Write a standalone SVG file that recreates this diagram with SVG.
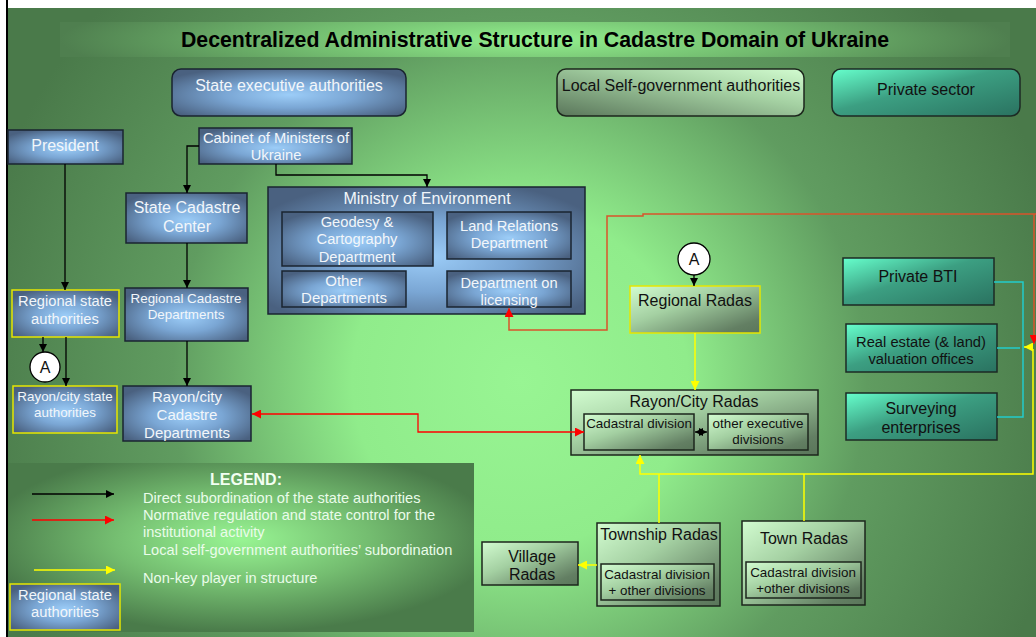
<svg xmlns="http://www.w3.org/2000/svg" width="1036" height="637" viewBox="0 0 1036 637">
<defs>
<radialGradient id="bg" gradientUnits="userSpaceOnUse" cx="520" cy="380" r="560">
<stop offset="0" stop-color="#98f593"/>
<stop offset="0.3" stop-color="#90ec8b"/>
<stop offset="0.62" stop-color="#609c60"/>
<stop offset="1" stop-color="#4a7a4a"/>
</radialGradient>
<radialGradient id="band" cx="0.5" cy="0.5" r="0.5" gradientTransform="translate(0.5 0.5) scale(1 3) translate(-0.5 -0.5)">
<stop offset="0" stop-color="#93f08e"/>
<stop offset="0.5" stop-color="#73bd70"/>
<stop offset="1" stop-color="#4f7f4f"/>
</radialGradient>
<radialGradient id="legbg" cx="0.5" cy="0.45" r="0.55">
<stop offset="0" stop-color="#98f593"/>
<stop offset="0.5" stop-color="#74bd70"/>
<stop offset="1" stop-color="#4a7b4a"/>
</radialGradient>
<radialGradient id="blue" cx="0.5" cy="0.55" r="0.62">
<stop offset="0" stop-color="#9ccdf8"/>
<stop offset="0.45" stop-color="#7aa6d4"/>
<stop offset="1" stop-color="#4a6180"/>
</radialGradient>
<linearGradient id="lgreen" x1="0" y1="0" x2="1" y2="1">
<stop offset="0" stop-color="#d2fcd0"/>
<stop offset="0.4" stop-color="#a4d0a2"/>
<stop offset="0.85" stop-color="#637f63"/>
<stop offset="1" stop-color="#5a765a"/>
</linearGradient>
<linearGradient id="lgreen2" x1="1" y1="0" x2="0" y2="1">
<stop offset="0" stop-color="#d2fcd0"/>
<stop offset="0.4" stop-color="#a4d0a2"/>
<stop offset="1" stop-color="#5a765a"/>
</linearGradient>
<linearGradient id="teal" x1="0" y1="0" x2="1" y2="1">
<stop offset="0" stop-color="#66ffcc"/>
<stop offset="0.45" stop-color="#3c9f82"/>
<stop offset="1" stop-color="#2a7260"/>
</linearGradient>
<marker id="ak" viewBox="0 0 10 10" refX="10" refY="5" markerWidth="8" markerHeight="8" markerUnits="userSpaceOnUse" orient="auto-start-reverse"><path d="M0,0 L10,5 L0,10 z" fill="#000"/></marker>
<marker id="ar" viewBox="0 0 10 10" refX="10" refY="5" markerWidth="9" markerHeight="9" markerUnits="userSpaceOnUse" orient="auto-start-reverse"><path d="M0,0 L10,5 L0,10 z" fill="#ff0000"/></marker>
<marker id="ay" viewBox="0 0 10 10" refX="10" refY="5" markerWidth="9" markerHeight="9" markerUnits="userSpaceOnUse" orient="auto-start-reverse"><path d="M0,0 L10,5 L0,10 z" fill="#ffff00"/></marker>
<style>
text{font-family:"Liberation Sans",Arial,sans-serif;text-anchor:middle}
.w{fill:#f2f6fa}
.d{fill:#111}
.bx{fill:url(#blue);stroke:#1a2430;stroke-width:1.5}
.bxy{fill:url(#blue);stroke:#e6e600;stroke-width:1.5}
.gx{fill:url(#lgreen);stroke:#1c261c;stroke-width:1.5}
.tx{fill:url(#teal);stroke:#1c2a24;stroke-width:1.5}
.k{fill:none;stroke:#000;stroke-width:1.3}
.r{fill:none;stroke:#ff0000;stroke-width:1.3}
.ro{fill:none;stroke:#d9542b;stroke-width:1.5}
.y{fill:none;stroke:#ffff00;stroke-width:1.5}
.c{fill:none;stroke:#22cccc;stroke-width:1.5}
.f16{font-size:16px}
.f15{font-size:15px}
.f14{font-size:14.7px}
.f13{font-size:13.4px}
</style>
</defs>

<rect x="0" y="0" width="1036" height="637" fill="#fff"/>
<rect x="8" y="8" width="1028" height="629" fill="url(#bg)"/>
<line x1="7" y1="0" x2="7" y2="637" stroke="#000" stroke-width="2"/>

<g id="title">
<rect x="60" y="22" width="950" height="35" fill="url(#band)"/>
<text x="535" y="47" font-size="21.3" font-weight="bold" fill="#000">Decentralized Administrative Structure in Cadastre Domain of Ukraine</text>
</g>

<g id="header-state">
<rect x="172" y="69" width="234" height="47" rx="9" class="bx"/>
<text x="289" y="91" class="w f16">State executive authorities</text>
</g>
<g id="header-local">
<rect x="557" y="69" width="247" height="47" rx="9" fill="url(#lgreen2)" stroke="#1c261c" stroke-width="1.5"/>
<text x="681" y="91" class="d f16">Local Self-government authorities</text>
</g>
<g id="header-private">
<rect x="832" y="69" width="188" height="47" rx="9" fill="url(#teal)" stroke="#1c2a24" stroke-width="1.5"/>
<text x="926" y="95" class="d f16">Private sector</text>
</g>

<g id="president">
<rect x="8" y="130" width="115" height="34" class="bx"/>
<text x="65" y="151" class="w f16">President</text>
</g>
<g id="cabinet">
<rect x="199" y="128" width="153" height="36" class="bx"/>
<text x="276" y="143" class="w f14">Cabinet of Ministers of</text>
<text x="276" y="160" class="w f14">Ukraine</text>
</g>
<g id="state-cadastre-center">
<rect x="126" y="193" width="121" height="50" class="bx"/>
<text x="187" y="213" class="w f16">State Cadastre</text>
<text x="187" y="232" class="w f16">Center</text>
</g>
<g id="ministry">
<rect x="268" y="187" width="317" height="127" class="bx"/>
<text x="427" y="204" class="w f16">Ministry of Environment</text>
<rect x="282" y="212" width="151" height="54" class="bx"/>
<text x="357" y="227" class="w f14">Geodesy &amp;</text>
<text x="357" y="244" class="w f14">Cartography</text>
<text x="357" y="262" class="w f14">Department</text>
<rect x="447" y="212" width="124" height="47" class="bx"/>
<text x="509" y="231" class="w f14">Land Relations</text>
<text x="509" y="248" class="w f14">Department</text>
<rect x="282" y="271" width="124" height="36" class="bx"/>
<text x="344" y="286" class="w f15">Other</text>
<text x="344" y="303" class="w f15">Departments</text>
<rect x="447" y="271" width="124" height="36" class="bx"/>
<text x="509" y="288" class="w f14">Department on</text>
<text x="509" y="305" class="w f14">licensing</text>
</g>
<g id="regional-state">
<rect x="12" y="290" width="107" height="47" class="bxy"/>
<text x="65" y="306" class="w f14">Regional state</text>
<text x="65" y="324" class="w f14">authorities</text>
</g>
<g id="circle-a-left">
<circle cx="45" cy="367" r="15" fill="#fff" stroke="#000" stroke-width="1.3"/>
<text x="45" y="373" class="d f16">A</text>
</g>
<g id="rayon-state">
<rect x="13" y="386" width="104" height="47" class="bxy"/>
<text x="65" y="401" class="w f13">Rayon/city state</text>
<text x="65" y="417" class="w f13">authorities</text>
</g>
<g id="regional-cadastre">
<rect x="125" y="288" width="123" height="53" class="bx"/>
<text x="186" y="303" class="w f13">Regional Cadastre</text>
<text x="186" y="319" class="w f13">Departments</text>
</g>
<g id="rayon-cadastre">
<rect x="123" y="386" width="128" height="55" class="bx"/>
<text x="187" y="402" class="w f15">Rayon/city</text>
<text x="187" y="420" class="w f15">Cadastre</text>
<text x="187" y="438" class="w f15">Departments</text>
</g>

<g id="circle-a-right">
<circle cx="694" cy="259" r="16" fill="#fff" stroke="#000" stroke-width="1.3"/>
<text x="694" y="265" class="d f16">A</text>
</g>
<g id="regional-radas">
<rect x="630" y="286" width="130" height="47" fill="url(#lgreen)" stroke="#e6e600" stroke-width="1.5"/>
<text x="695" y="306" class="d f16">Regional Radas</text>
</g>
<g id="rayon-radas">
<rect x="571" y="390" width="247" height="65" class="gx"/>
<text x="694" y="407" class="d f16">Rayon/City Radas</text>
<rect x="584" y="414" width="110" height="36" class="gx"/>
<text x="639" y="428" class="d f13">Cadastral division</text>
<rect x="708" y="414" width="100" height="36" class="gx"/>
<text x="758" y="428" class="d f13">other executive</text>
<text x="758" y="444" class="d f13">divisions</text>
</g>
<g id="private-bti">
<rect x="843" y="258" width="151" height="47" class="tx"/>
<text x="918" y="282" class="d f16">Private BTI</text>
</g>
<g id="real-estate">
<rect x="846" y="324" width="151" height="48" class="tx"/>
<text x="921" y="347" class="d f14">Real estate (&amp; land)</text>
<text x="921" y="364" class="d f14">valuation offices</text>
</g>
<g id="surveying">
<rect x="846" y="393" width="151" height="47" class="tx"/>
<text x="921" y="414" class="d f16">Surveying</text>
<text x="921" y="433" class="d f16">enterprises</text>
</g>
<g id="village-radas">
<rect x="482" y="542" width="96" height="43" class="gx"/>
<text x="532" y="562" class="d f16">Village</text>
<text x="532" y="580" class="d f16">Radas</text>
</g>
<g id="township-radas">
<rect x="597" y="523" width="123" height="83" class="gx"/>
<text x="659" y="540" class="d f16">Township Radas</text>
<rect x="601" y="564" width="113" height="36" class="gx"/>
<text x="657" y="579" class="d f13">Cadastral division</text>
<text x="657" y="595" class="d f13">+ other divisions</text>
</g>
<g id="town-radas">
<rect x="742" y="521" width="123" height="84" class="gx"/>
<text x="804" y="544" class="d f16">Town Radas</text>
<rect x="746" y="562" width="115" height="36" class="gx"/>
<text x="803" y="577" class="d f13">Cadastral division</text>
<text x="803" y="593" class="d f13">+other divisions</text>
</g>

<g id="connectors">
<path d="M65,164 V290" class="k" marker-end="url(#ak)"/>
<path d="M199,146 H187 V193" class="k" marker-end="url(#ak)"/>
<path d="M276,164 V175 H427 V187" class="k" marker-end="url(#ak)"/>
<path d="M187,243 V288" class="k" marker-end="url(#ak)"/>
<path d="M187,341 V386" class="k" marker-end="url(#ak)"/>
<path d="M43,337 V352" class="k" marker-end="url(#ak)"/>
<path d="M66,337 V386" class="k" marker-end="url(#ak)"/>
<path d="M694,275 V286" class="k" marker-end="url(#ak)"/>
<path d="M695,333 V390" class="y" marker-end="url(#ay)"/>
<path d="M1036,214 H643 V216 H607 V330 H509 V308" class="ro" marker-end="url(#ar)"/>
<path d="M1034,214 V344" class="ro" marker-end="url(#ar)"/>
<path d="M252,414 H418 V432 H584" class="r" marker-start="url(#ar)" marker-end="url(#ar)"/>
<path d="M695,432 H707" class="k" marker-start="url(#ak)" marker-end="url(#ak)"/>
<path d="M1033,349 V474 H640 V455" class="y" marker-end="url(#ay)"/>
<path d="M1032,347 H1024" class="y" marker-end="url(#ay)"/>
<path d="M659,523 V474" class="y"/>
<path d="M804,521 V474" class="y"/>
<path d="M597,565 H578" class="y" marker-end="url(#ay)"/>
<path d="M994,282 H1023 V417 H997" class="c"/>
<path d="M997,348 H1020" class="c"/>
</g>

<g id="legend">
<rect x="8" y="463" width="466" height="169" fill="url(#legbg)"/>
<text x="246" y="485" font-size="16" font-weight="bold" fill="#f2fff2">LEGEND:</text>
<path d="M32,494 H114" class="k" marker-end="url(#ak)"/>
<path d="M32,520 H114" class="r" marker-end="url(#ar)"/>
<path d="M34,570 H115" class="y" marker-end="url(#ay)"/>
<g font-size="14.6" fill="#eafcea">
<text x="143" y="503" style="text-anchor:start">Direct subordination of the state authorities</text>
<text x="143" y="520" style="text-anchor:start">Normative regulation and state control for the</text>
<text x="143" y="537" style="text-anchor:start">institutional activity</text>
<text x="143" y="555" style="text-anchor:start">Local self-government authorities’ subordination</text>
<text x="143" y="583" style="text-anchor:start">Non-key player in structure</text>
</g>
<rect x="10" y="584" width="110" height="46" class="bxy"/>
<text x="65" y="600" class="w f14">Regional state</text>
<text x="65" y="617" class="w f14">authorities</text>
</g>
</svg>
